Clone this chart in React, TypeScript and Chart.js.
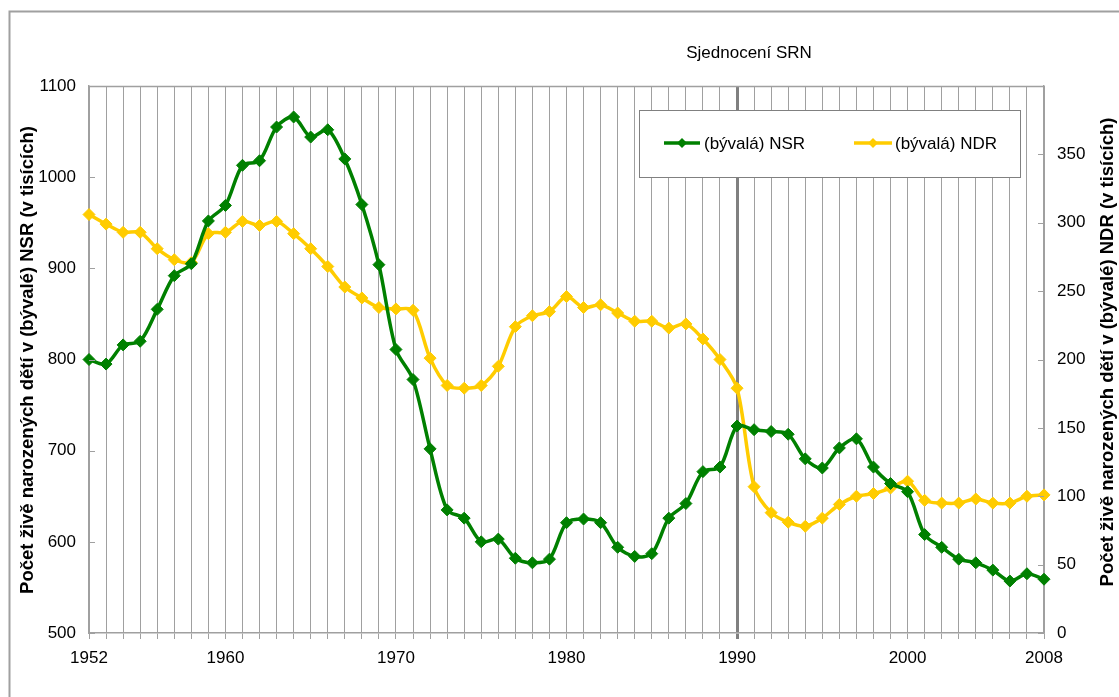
import React, { useEffect, useRef } from "react";
import { Chart, registerables } from "chart.js";

Chart.register(...registerables);

const years = [
  1952, 1953, 1954, 1955, 1956, 1957, 1958, 1959, 1960, 1961, 1962, 1963, 1964,
  1965, 1966, 1967, 1968, 1969, 1970, 1971, 1972, 1973, 1974, 1975, 1976, 1977, 1978, 1979,
  1980, 1981, 1982, 1983, 1984, 1985, 1986, 1987, 1988, 1989, 1990, 1991, 1992, 1993, 1994,
  1995, 1996, 1997, 1998, 1999, 2000, 2001, 2002, 2003, 2004, 2005, 2006, 2007, 2008,
];

const nsr = [
  800, 795, 816, 820, 855, 892, 905, 952, 969, 1013, 1018, 1055, 1066,
  1044, 1052, 1020, 970, 904, 811, 778, 702, 635, 626, 600, 603, 582, 577, 581,
  621, 625, 621, 594, 584, 587, 626, 642, 677, 682, 727, 723, 721, 718, 691, 681, 703, 713,
  682, 664, 655, 608, 594, 581, 577, 569, 557, 565, 559,
];

const ndr = [
  306, 299, 293, 293, 281, 273, 271, 292, 293, 301, 298, 301, 292,
  281, 268, 253, 245, 238, 237, 236, 201, 181, 179, 181, 195, 224, 232, 235,
  246, 238, 240, 234, 228, 228, 223, 226, 215, 200, 179, 107, 88, 81, 78, 84, 94, 100,
  102, 106, 111, 97, 95, 95, 98, 95, 95, 100, 101,
];

const xLabelYears = [1952, 1960, 1970, 1980, 1990, 2000, 2008];
const unificationYear = 1990;

const seriesNames = ["(bývalá) NSR", "(bývalá) NDR"];
const leftTitle = "Počet živě narozených dětí v (bývalé) NSR (v tisících)";
const rightTitle = "Počet živě narozených dětí v (bývalé) NDR (v tisících)";
const annotationText = "Sjednocení SRN";

const GREEN = "#008000";
const YELLOW = "#FFCC00";
const GRID = "#a0a0a0";
const FONT = "'Liberation Sans', Arial, sans-serif";

function diamond(ctx: CanvasRenderingContext2D, x: number, y: number, r: number, color: string) {
  ctx.beginPath();
  ctx.moveTo(x, y - r);
  ctx.lineTo(x + r, y);
  ctx.lineTo(x, y + r);
  ctx.lineTo(x - r, y);
  ctx.closePath();
  ctx.fillStyle = color;
  ctx.fill();
}

const decorPlugin = {
  id: "decor",
  afterDraw(chart: any) {
    const ctx: CanvasRenderingContext2D = chart.ctx;
    const area = chart.chartArea;
    const yL = chart.scales.y;
    const yR = chart.scales.y1;
    const xS = chart.scales.x;
    ctx.save();

    // outer border
    ctx.strokeStyle = GRID;
    ctx.lineWidth = 2;
    ctx.beginPath();
    ctx.moveTo(9.5, 700);
    ctx.lineTo(9.5, 11.5);
    ctx.lineTo(1125, 11.5);
    ctx.stroke();

    // plot top border
    ctx.lineWidth = 1.5;
    ctx.beginPath();
    ctx.moveTo(area.left, area.top + 0.5);
    ctx.lineTo(area.right, area.top + 0.5);
    ctx.stroke();

    // inner ticks
    ctx.lineWidth = 1;
    ctx.beginPath();
    yL.ticks.forEach((t: any) => {
      const py = Math.round(yL.getPixelForValue(t.value)) + 0.5;
      ctx.moveTo(area.left, py);
      ctx.lineTo(area.left + 6, py);
    });
    yR.ticks.forEach((t: any) => {
      const py = Math.round(yR.getPixelForValue(t.value)) + 0.5;
      ctx.moveTo(area.right, py);
      ctx.lineTo(area.right - 6, py);
    });
    ctx.stroke();

    // annotation text
    ctx.fillStyle = "#000";
    ctx.font = `17px ${FONT}`;
    ctx.textAlign = "center";
    ctx.textBaseline = "middle";
    ctx.fillText(annotationText, xS.getPixelForValue(unificationYear) + 12, 53);

    // axis titles
    ctx.font = `bold 18.5px ${FONT}`;
    ctx.save();
    ctx.translate(28, 360);
    ctx.rotate(-Math.PI / 2);
    ctx.fillText(leftTitle, 0, 0);
    ctx.restore();
    ctx.save();
    ctx.translate(1108, 352);
    ctx.rotate(-Math.PI / 2);
    ctx.fillText(rightTitle, 0, 0);
    ctx.restore();

    // legend
    const lx = 639.5, ly = 110.5, lw = 381, lh = 67;
    ctx.fillStyle = "#fff";
    ctx.fillRect(lx, ly, lw, lh);
    ctx.strokeStyle = "#808080";
    ctx.lineWidth = 1;
    ctx.strokeRect(lx, ly, lw, lh);
    const items = [
      { x0: 664, x1: 700, tx: 704, color: GREEN, label: seriesNames[0] },
      { x0: 854, x1: 892, tx: 895, color: YELLOW, label: seriesNames[1] },
    ];
    const cy = 143;
    items.forEach((it) => {
      ctx.strokeStyle = it.color;
      ctx.lineWidth = 3.5;
      ctx.beginPath();
      ctx.moveTo(it.x0, cy);
      ctx.lineTo(it.x1, cy);
      ctx.stroke();
      diamond(ctx, (it.x0 + it.x1) / 2, cy, 5, it.color);
      ctx.fillStyle = "#000";
      ctx.font = `17px ${FONT}`;
      ctx.textAlign = "left";
      ctx.textBaseline = "middle";
      ctx.fillText(it.label, it.tx, cy + 1);
    });

    ctx.restore();
  },
};

export default function App() {
  const ref = useRef<HTMLCanvasElement | null>(null);

  useEffect(() => {
    document.body.style.margin = "0";
    const canvas = ref.current;
    if (!canvas) return;
    const chart = new Chart(canvas, {
      type: "line",
      data: {
        datasets: [
          {
            label: seriesNames[0],
            data: years.map((y, i) => ({ x: y, y: nsr[i] })),
            yAxisID: "y",
            borderColor: GREEN,
            backgroundColor: GREEN,
            borderWidth: 3.5,
            pointStyle: "rectRot",
            pointRadius: 6,
            pointBorderWidth: 1,
            tension: 0.3,
            clip: false,
          },
          {
            label: seriesNames[1],
            data: years.map((y, i) => ({ x: y, y: ndr[i] })),
            yAxisID: "y1",
            borderColor: YELLOW,
            backgroundColor: YELLOW,
            borderWidth: 3.5,
            pointStyle: "rectRot",
            pointRadius: 6,
            pointBorderWidth: 1,
            tension: 0.3,
            clip: false,
          },
        ],
      },
      options: {
        responsive: false,
        animation: false,
        devicePixelRatio: 1,
        layout: { padding: { top: 86, left: 0, right: 0, bottom: 0 } },
        plugins: {
          legend: { display: false },
          tooltip: { enabled: false },
          title: { display: false },
        },
        scales: {
          x: {
            type: "linear",
            min: 1952,
            max: 2008,
            afterBuildTicks: (scale: any) => {
              scale.ticks = years.map((v) => ({ value: v }));
            },
            afterFit: (scale: any) => {
              scale.height = 64;
            },
            ticks: {
              autoSkip: false,
              maxRotation: 0,
              padding: 9,
              color: "#000",
              font: { family: FONT, size: 17 },
              callback: (v: any) => (xLabelYears.includes(Number(v)) ? String(v) : ""),
            },
            grid: {
              color: (c: any) => (c.tick && c.tick.value === unificationYear ? "#808080" : GRID),
              lineWidth: (c: any) => (c.tick && c.tick.value === unificationYear ? 3 : 1),
              drawTicks: true,
              tickLength: 6,
            },
            border: { color: GRID, width: 1.5 },
          },
          y: {
            type: "linear",
            position: "left",
            min: 500,
            max: 1100,
            afterFit: (scale: any) => {
              scale.width = 89;
            },
            ticks: {
              stepSize: 100,
              padding: 13,
              color: "#000",
              font: { family: FONT, size: 17 },
              callback: (v: any) => String(v),
            },
            grid: { drawOnChartArea: false, drawTicks: false },
            border: { color: GRID, width: 1.5 },
          },
          y1: {
            type: "linear",
            position: "right",
            min: 0,
            max: 400,
            afterFit: (scale: any) => {
              scale.width = 75;
            },
            ticks: {
              stepSize: 50,
              padding: 13,
              color: "#000",
              font: { family: FONT, size: 17 },
              callback: (v: any) => (Number(v) >= 400 ? "" : String(v)),
            },
            grid: { drawOnChartArea: false, drawTicks: false },
            border: { color: GRID, width: 1.5 },
          },
        },
      },
      plugins: [decorPlugin],
    });
    return () => chart.destroy();
  }, []);

  return (
    <canvas
      ref={ref}
      width={1119}
      height={697}
      style={{ display: "block", width: 1119, height: 697 }}
    />
  );
}
